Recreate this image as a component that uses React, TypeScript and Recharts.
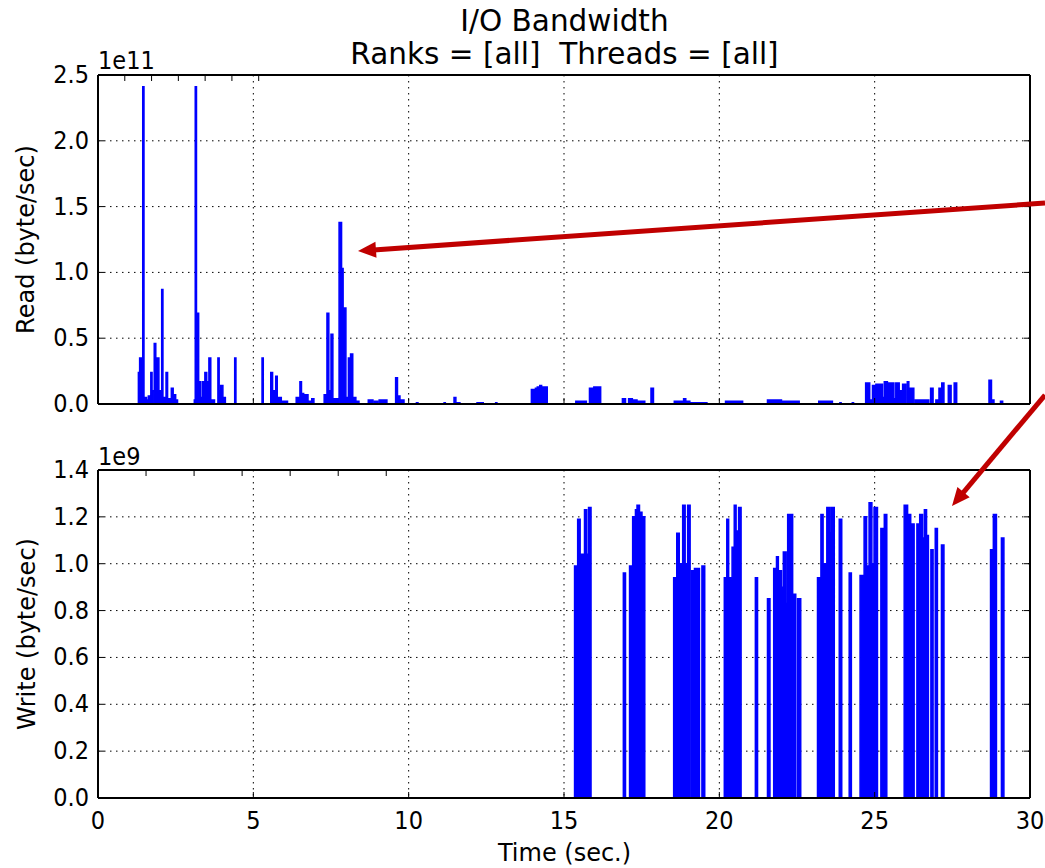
import React from 'react';
import { ComposedChart, Area, XAxis, YAxis, CartesianGrid } from 'recharts';

type Seg = [number, number, number]; // [start sec, end sec, value]

// Axis ticks
const TIME_TICKS = [0, 5, 10, 15, 20, 25, 30];
const READ_TICKS = [0, 0.5, 1.0, 1.5, 2.0, 2.5]; // x 1e11 byte/sec
const WRITE_TICKS = [0, 0.2, 0.4, 0.6, 0.8, 1.0, 1.2, 1.4]; // x 1e9 byte/sec

// Span of the recorded series (seconds)
const READ_SPAN: [number, number] = [1.08, 29.17];
const WRITE_SPAN: [number, number] = [3.6, 29.2];

// Read bandwidth, units of 1e11 byte/sec
const readSegments: Seg[] = [
  [1.30, 1.34, 0.24], [1.34, 1.40, 0.35], [1.44, 1.48, 2.41], [1.48, 1.56, 0.05],
  [1.56, 1.62, 0.03], [1.62, 1.68, 0.06], [1.70, 1.74, 0.24], [1.74, 1.80, 0.10],
  [1.81, 1.86, 0.46], [1.86, 1.90, 0.30], [1.90, 1.96, 0.35], [1.96, 2.04, 0.10],
  [2.05, 2.09, 0.87], [2.09, 2.18, 0.05], [2.19, 2.24, 0.24], [2.24, 2.33, 0.04],
  [2.36, 2.42, 0.12], [2.42, 2.50, 0.07], [2.50, 2.56, 0.03],
  [3.10, 3.13, 0.03], [3.13, 3.17, 2.41], [3.17, 3.24, 0.69], [3.24, 3.30, 0.17],
  [3.30, 3.36, 0.05], [3.36, 3.42, 0.17], [3.44, 3.50, 0.24], [3.50, 3.56, 0.17],
  [3.57, 3.63, 0.35], [3.63, 3.75, 0.03], [3.86, 3.90, 0.35], [3.90, 3.95, 0.10],
  [3.95, 4.02, 0.14], [4.02, 4.10, 0.05], [4.40, 4.44, 0.35], [5.28, 5.32, 0.35],
  [5.56, 5.62, 0.24], [5.62, 5.70, 0.10], [5.72, 5.77, 0.21], [5.77, 5.90, 0.05],
  [5.90, 6.10, 0.02], [6.38, 6.46, 0.05], [6.50, 6.55, 0.17], [6.55, 6.62, 0.08],
  [6.66, 6.76, 0.07], [6.76, 6.84, 0.02], [6.88, 6.95, 0.04], [7.28, 7.37, 0.07],
  [7.37, 7.43, 0.69], [7.43, 7.50, 0.10], [7.50, 7.56, 0.53], [7.56, 7.74, 0.04],
  [7.76, 7.84, 1.38], [7.84, 7.89, 1.03], [7.89, 7.98, 0.73], [7.98, 8.06, 0.05],
  [8.06, 8.13, 0.35], [8.13, 8.20, 0.38], [8.20, 8.30, 0.05], [8.30, 8.40, 0.02],
  [8.70, 8.85, 0.03], [8.90, 9.00, 0.02], [9.05, 9.30, 0.03], [9.58, 9.64, 0.20],
  [9.64, 9.72, 0.06], [9.72, 9.85, 0.03], [10.25, 10.30, 0.01], [11.14, 11.18, 0.01],
  [11.46, 11.52, 0.05], [11.52, 11.65, 0.01], [12.20, 12.40, 0.01], [12.80, 12.84, 0.01],
  [13.95, 14.08, 0.11], [14.08, 14.14, 0.12], [14.14, 14.22, 0.13], [14.22, 14.28, 0.14],
  [14.28, 14.36, 0.13], [14.40, 14.46, 0.13],
  [15.38, 15.72, 0.02], [15.82, 15.92, 0.12], [15.96, 16.18, 0.13], [16.88, 16.98, 0.04],
  [17.08, 17.20, 0.04], [17.20, 17.35, 0.03], [17.35, 17.60, 0.02], [17.80, 17.88, 0.12],
  [18.55, 18.85, 0.02], [18.85, 18.92, 0.04], [18.92, 19.05, 0.02], [19.05, 19.60, 0.01],
  [20.20, 20.75, 0.02], [21.55, 22.00, 0.03], [22.00, 22.57, 0.02], [23.20, 23.64, 0.02],
  [23.88, 23.92, 0.01], [24.28, 24.32, 0.01],
  [24.71, 24.84, 0.16], [24.84, 24.93, 0.03], [24.93, 25.04, 0.14], [25.04, 25.25, 0.15],
  [25.25, 25.31, 0.05], [25.31, 25.41, 0.17], [25.41, 25.62, 0.16], [25.62, 25.68, 0.04],
  [25.68, 25.79, 0.16], [25.79, 25.90, 0.10], [25.90, 26.00, 0.15], [26.05, 26.10, 0.17],
  [26.10, 26.26, 0.12], [26.31, 26.74, 0.03], [26.80, 26.88, 0.12], [26.97, 27.05, 0.03],
  [27.07, 27.16, 0.12], [27.16, 27.23, 0.16], [27.37, 27.46, 0.14], [27.56, 27.64, 0.16],
  [28.68, 28.76, 0.18], [28.78, 28.84, 0.03], [29.05, 29.12, 0.02],
];

// Write bandwidth, units of 1e9 byte/sec
const writeSegments: Seg[] = [
  [15.34, 15.44, 0.99], [15.44, 15.52, 1.19], [15.52, 15.66, 1.04], [15.66, 15.73, 1.23],
  [15.73, 15.79, 1.04], [15.79, 15.87, 1.24],
  [16.91, 16.98, 0.96], [17.11, 17.21, 0.99], [17.21, 17.30, 1.20], [17.30, 17.35, 1.23],
  [17.35, 17.43, 1.25], [17.43, 17.51, 1.22], [17.51, 17.60, 1.20],
  [18.53, 18.63, 0.94], [18.63, 18.71, 1.13], [18.71, 18.82, 1.00], [18.82, 18.90, 1.25],
  [18.90, 18.98, 1.00], [18.98, 19.06, 1.25], [19.11, 19.20, 0.97], [19.20, 19.27, 0.98],
  [19.29, 19.36, 0.98], [19.44, 19.53, 0.99],
  [20.16, 20.24, 0.94], [20.24, 20.30, 1.19], [20.33, 20.41, 0.94], [20.41, 20.48, 1.07],
  [20.48, 20.54, 1.25], [20.54, 20.62, 1.14], [20.62, 20.70, 1.24],
  [21.16, 21.23, 0.94], [21.55, 21.63, 0.85], [21.75, 21.84, 0.98], [21.84, 21.90, 1.03],
  [21.90, 22.00, 0.97], [22.00, 22.06, 0.90], [22.06, 22.15, 1.05], [22.15, 22.20, 0.83],
  [22.20, 22.36, 1.21], [22.36, 22.46, 0.87], [22.52, 22.62, 0.85],
  [23.16, 23.27, 0.94], [23.27, 23.34, 1.21], [23.34, 23.46, 1.00], [23.46, 23.54, 1.24],
  [23.54, 23.59, 1.13], [23.59, 23.70, 1.24], [23.86, 23.94, 1.19], [24.18, 24.25, 0.96],
  [24.53, 24.66, 0.95], [24.66, 24.74, 1.20], [24.74, 24.82, 0.99], [24.82, 24.91, 1.26],
  [24.91, 24.98, 1.00], [24.98, 25.09, 1.24], [25.20, 25.31, 1.15], [25.31, 25.39, 1.21],
  [25.95, 26.06, 1.25], [26.06, 26.16, 1.21], [26.16, 26.27, 1.17], [26.36, 26.45, 1.17],
  [26.45, 26.54, 1.21], [26.54, 26.60, 1.11], [26.60, 26.67, 1.23], [26.67, 26.73, 1.12],
  [26.81, 26.88, 1.06], [26.95, 27.02, 1.15], [27.15, 27.23, 1.08],
  [28.73, 28.82, 1.06], [28.82, 28.92, 1.21], [29.08, 29.16, 1.11],
];

type Pt = { t: number; v: number };

function toSteps(span: [number, number], segs: Seg[]): Pt[] {
  const pts: Pt[] = [{ t: span[0], v: 0 }];
  segs.forEach(([s, e, v], i) => {
    pts.push({ t: s, v });
    const next = segs[i + 1];
    if (!next || next[0] > e + 1e-9) pts.push({ t: e, v: 0 });
  });
  pts.push({ t: span[1], v: 0 });
  return pts;
}

const readData = toSteps(READ_SPAN, readSegments);
const writeData = toSteps(WRITE_SPAN, writeSegments);

const TICK_FONT = "'DejaVu Sans Condensed', 'DejaVu Sans', sans-serif";
const LABEL_FONT = "'DejaVu Sans', sans-serif";
const BLUE = '#0000ff';
const RED = '#c00000';
const TICK_LEN = 6;
const FRAME = { stroke: '#000', strokeWidth: 2 };

const makeBottomTick = (showLabel: boolean) => (p: any) => (
  <g>
    <line x1={p.x} x2={p.x} y1={p.y} y2={p.y - TICK_LEN} stroke="#000" strokeWidth={1} />
    {showLabel && (
      <text x={p.x} y={p.y + 31} textAnchor="middle" fontSize={25} fontFamily={TICK_FONT} fill="#000">
        {String(p.payload.value)}
      </text>
    )}
  </g>
);

const TopTick = (p: any) => (
  <line x1={p.x} x2={p.x} y1={p.y} y2={p.y + TICK_LEN} stroke="#000" strokeWidth={1} />
);

const LeftTick = (p: any) => (
  <g>
    <line x1={p.x} x2={p.x + TICK_LEN} y1={p.y} y2={p.y} stroke="#000" strokeWidth={1} />
    <text x={p.x - 9} y={p.y + 8} textAnchor="end" fontSize={25} fontFamily={TICK_FONT} fill="#000">
      {Number(p.payload.value).toFixed(1)}
    </text>
  </g>
);

const RightTick = (p: any) => (
  <line x1={p.x} x2={p.x - TICK_LEN} y1={p.y} y2={p.y} stroke="#000" strokeWidth={1} />
);

interface PanelProps {
  data: Pt[];
  yTicks: number[];
  yMax: number;
  height: number;
  top: number;
  bottom: number;
  showXLabels: boolean;
}

function Panel({ data, yTicks, yMax, height, top, bottom, showXLabels }: PanelProps) {
  return (
    <ComposedChart width={1045} height={height} data={data} margin={{ top, right: 14, bottom, left: 0 }}>
      <CartesianGrid stroke="#000" strokeWidth={1} strokeDasharray="1.5 4.5" />
      <XAxis
        xAxisId={0}
        dataKey="t"
        type="number"
        domain={[0, 30]}
        ticks={TIME_TICKS}
        interval={0}
        allowDataOverflow
        axisLine={FRAME}
        tickLine={false}
        tickSize={0}
        tickMargin={0}
        height={1}
        tick={makeBottomTick(showXLabels)}
      />
      <XAxis
        xAxisId="top"
        orientation="top"
        type="number"
        domain={[0, 30]}
        ticks={TIME_TICKS}
        interval={0}
        allowDataOverflow
        axisLine={FRAME}
        tickLine={false}
        tickSize={0}
        tickMargin={0}
        height={1}
        tick={TopTick}
      />
      <YAxis
        yAxisId={0}
        type="number"
        domain={[0, yMax]}
        ticks={yTicks}
        interval={0}
        allowDataOverflow
        axisLine={FRAME}
        tickLine={false}
        tickSize={0}
        tickMargin={0}
        width={98}
        tick={LeftTick}
      />
      <YAxis
        yAxisId="right"
        orientation="right"
        type="number"
        domain={[0, yMax]}
        ticks={yTicks}
        interval={0}
        allowDataOverflow
        axisLine={FRAME}
        tickLine={false}
        tickSize={0}
        tickMargin={0}
        width={1}
        tick={RightTick}
      />
      <Area
        xAxisId={0}
        yAxisId={0}
        type="stepAfter"
        dataKey="v"
        stroke={BLUE}
        strokeWidth={1.5}
        fill={BLUE}
        fillOpacity={1}
        dot={false}
        activeDot={false}
        isAnimationActive={false}
      />
    </ComposedChart>
  );
}

function Arrow({ x1, y1, x2, y2 }: { x1: number; y1: number; x2: number; y2: number }) {
  const dx = x2 - x1;
  const dy = y2 - y1;
  const len = Math.hypot(dx, dy);
  const ux = dx / len;
  const uy = dy / len;
  const nx = -uy;
  const ny = ux;
  const headLen = 18;
  const headHalf = 8;
  const bx = x2 - ux * headLen;
  const by = y2 - uy * headLen;
  const pts = `${x2},${y2} ${bx + nx * headHalf},${by + ny * headHalf} ${bx - nx * headHalf},${by - ny * headHalf}`;
  return (
    <g>
      <line x1={x1} y1={y1} x2={x2 - ux * 12} y2={y2 - uy * 12} stroke={RED} strokeWidth={5} />
      <polygon points={pts} fill={RED} />
    </g>
  );
}

export default function App() {
  return (
    <div style={{ position: 'absolute', left: 0, top: 0, width: 1045, height: 868, background: '#fff' }}>
      <div style={{ position: 'absolute', left: 0, top: 0 }}>
        <Panel data={readData} yTicks={READ_TICKS} yMax={2.5} height={430} top={74} bottom={25} showXLabels={false} />
      </div>
      <div style={{ position: 'absolute', left: 0, top: 430 }}>
        <Panel data={writeData} yTicks={WRITE_TICKS} yMax={1.4} height={438} top={39} bottom={69} showXLabels />
      </div>
      <svg
        width={1045}
        height={868}
        style={{ position: 'absolute', left: 0, top: 0, pointerEvents: 'none' }}
      >
        <text x={564.5} y={31} textAnchor="middle" fontSize={29.5} fontFamily={LABEL_FONT} fill="#000">
          I/O Bandwidth
        </text>
        <text x={564.5} y={64} textAnchor="middle" fontSize={29.5} fontFamily={LABEL_FONT} fill="#000" style={{ whiteSpace: 'pre' }}>
          {'Ranks = [all]  Threads = [all]'}
        </text>
        <text x={98} y={69} fontSize={25} fontFamily={TICK_FONT} fill="#000">1e11</text>
        <text x={98} y={465} fontSize={25} fontFamily={TICK_FONT} fill="#000">1e9</text>
        <text x={34} y={239.5} transform="rotate(-90 34 239.5)" textAnchor="middle" fontSize={24} fontFamily={LABEL_FONT} fill="#000">
          Read (byte/sec)
        </text>
        <text x={35} y={634} transform="rotate(-90 35 634)" textAnchor="middle" fontSize={24} fontFamily={LABEL_FONT} fill="#000">
          Write (byte/sec)
        </text>
        <text x={564.5} y={861} textAnchor="middle" fontSize={24} fontFamily={LABEL_FONT} fill="#000">
          Time (sec.)
        </text>
        <Arrow x1={1045} y1={203} x2={358} y2={251} />
        <Arrow x1={1045} y1={395} x2={952} y2={506} />
      </svg>
    </div>
  );
}
